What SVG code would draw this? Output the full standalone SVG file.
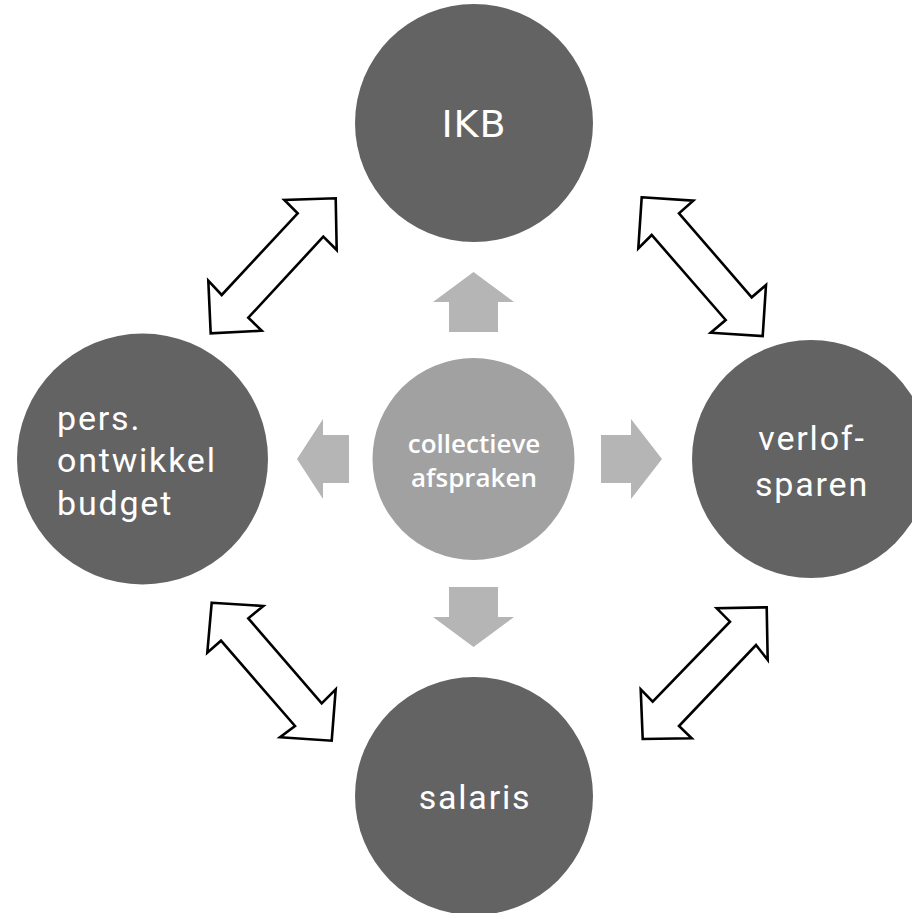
<svg xmlns="http://www.w3.org/2000/svg" width="912" height="913" viewBox="0 0 912 913">
<style>
.node{fill:#636363}
.hub{fill:#a1a1a1}
.lbl{font-family:Roboto,"Liberation Sans",sans-serif;font-size:34px;letter-spacing:1.8px;fill:#ffffff}
.ikb{font-family:"DejaVu Sans",sans-serif;font-size:38px;letter-spacing:1px;fill:#ffffff;text-anchor:middle}
.hublbl{font-family:"Open Sans",sans-serif;font-size:26px;font-weight:600;fill:#ffffff;text-anchor:middle}
.dbl{fill:#ffffff;stroke:#000000;stroke-width:2.6;stroke-linejoin:miter}
.push{fill:#b5b5b5}
</style>
<rect width="912" height="913" fill="#ffffff"/>
<g id="connectors">
  <polygon class="dbl" points="335.7,198.3 336.7,250 323.3,236.7 248.3,317.7 261.7,330.7 210.7,333.3 208.3,280.7 221.7,295 297.7,213.3 284.3,200"/>
  <polygon class="dbl" points="641.7,197.3 693.3,200.7 679,213.3 751.7,297.3 766,285 762.7,336 710.7,332.7 725.7,320 651.7,235 638.3,248.3"/>
  <polygon class="dbl" points="211.7,602.7 263.3,606 248.3,618.3 321.7,703.3 335.7,689.3 331.7,740.7 280,737.3 295,726 221,640.7 207.3,652.7"/>
  <polygon class="dbl" points="766.7,607.3 767.7,660 756,645 679,726 691.7,738.3 642.7,739 640.7,689.3 652.7,701.7 730,621.7 716.7,608.3"/>
  <polygon class="push" points="473.5,272 514,302 498,302 498,332 449,332 449,302 433,302"/>
  <polygon class="push" points="449,587 498,587 498,617 514,617 473.5,647 433,617 449,617"/>
  <polygon class="push" points="297,459 323,419 323,435 349,435 349,483 323,483 323,499"/>
  <polygon class="push" points="601,435 631,435 631,419 662,459 631,499 631,483 601,483"/>
</g>
<g id="node-ikb">
  <circle class="node" cx="474" cy="123" r="119"/>
  <text class="ikb" x="474" y="137">IKB</text>
</g>
<g id="node-budget">
  <circle class="node" cx="142.5" cy="459" r="125.5"/>
  <text class="lbl" x="57" y="430">pers.</text>
  <text class="lbl" x="57" y="472">ontwikkel</text>
  <text class="lbl" x="57" y="515">budget</text>
</g>
<g id="node-verlof">
  <circle class="node" cx="811" cy="459" r="119"/>
  <text class="lbl" x="812" y="450" text-anchor="middle">verlof-</text>
  <text class="lbl" x="812" y="496" text-anchor="middle">sparen</text>
</g>
<g id="node-salaris">
  <circle class="node" cx="474" cy="796" r="119"/>
  <text class="lbl" x="475" y="809" text-anchor="middle">salaris</text>
</g>
<g id="node-collectief">
  <circle class="hub" cx="473.5" cy="459" r="101"/>
  <text class="hublbl" x="474" y="453">collectieve</text>
  <text class="hublbl" x="474" y="487">afspraken</text>
</g>
</svg>
